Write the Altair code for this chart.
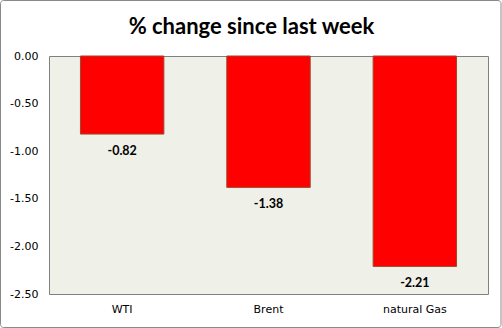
import altair as alt
import pandas as pd

categories = ["WTI", "Brent", "natural Gas"]
values = [-0.82, -1.38, -2.21]
y_ticks = [0.0, -0.5, -1.0, -1.5, -2.0, -2.5]

df = pd.DataFrame({"cat": categories, "val": values})

x = alt.X("cat:N", sort=categories, title=None,
          scale=alt.Scale(paddingInner=0.43, paddingOuter=0.215),
          axis=alt.Axis(labelAngle=0, labelFont="DejaVu Sans", labelFontSize=11,
                        labelColor="#000000", labelPadding=9, ticks=False, domain=False))
y = alt.Y("val:Q", title=None,
          scale=alt.Scale(domain=[-2.5, 0], nice=False),
          axis=alt.Axis(values=y_ticks, grid=False, ticks=False, domain=False,
                        labelExpr="replace(format(datum.value, '.2f'), '\u2212', '-')",
                        labelFont="DejaVu Sans", labelFontSize=11, labelColor="#000000",
                        labelPadding=11))

bars = alt.Chart(df).mark_bar(color="#FF0000", stroke="#9C4A2A", strokeWidth=1).encode(x=x, y=y)

labels = alt.Chart(df).transform_calculate(
    lbl="replace(format(datum.val, '.2f'), '\u2212', '-')"
).mark_text(baseline="top", dy=11, font="Lato", fontWeight="bold",
            fontSize=12.5, color="#000000").encode(
    x=alt.X("cat:N", sort=categories), y="val:Q", text="lbl:N")

frame = alt.Chart(pd.DataFrame({"a": [0]})).mark_rect(
    fill=None, stroke="#8a8a8a", strokeWidth=1, cornerRadius=3).encode(
    x=alt.value(-48.5), x2=alt.value(452), y=alt.value(-55.5), y2=alt.value(271.5))

chart = alt.layer(bars, labels, frame).properties(
    width=439, height=238,
    background="#FFFFFF",
    autosize=alt.AutoSizeParams(type="none"),
    padding={"left": 49, "top": 56, "right": 14, "bottom": 34},
    title=alt.TitleParams("% change since last week", font="Lato", fontSize=22,
                          fontWeight="bold", color="#000000", anchor="middle",
                          frame="group", offset=0, baseline="alphabetic", dy=56, dx=-17),
).configure_view(fill="#EFF0E8", stroke="#808080", strokeWidth=1)

chart.save("out.html", embed_options={"renderer": "svg", "actions": False})
